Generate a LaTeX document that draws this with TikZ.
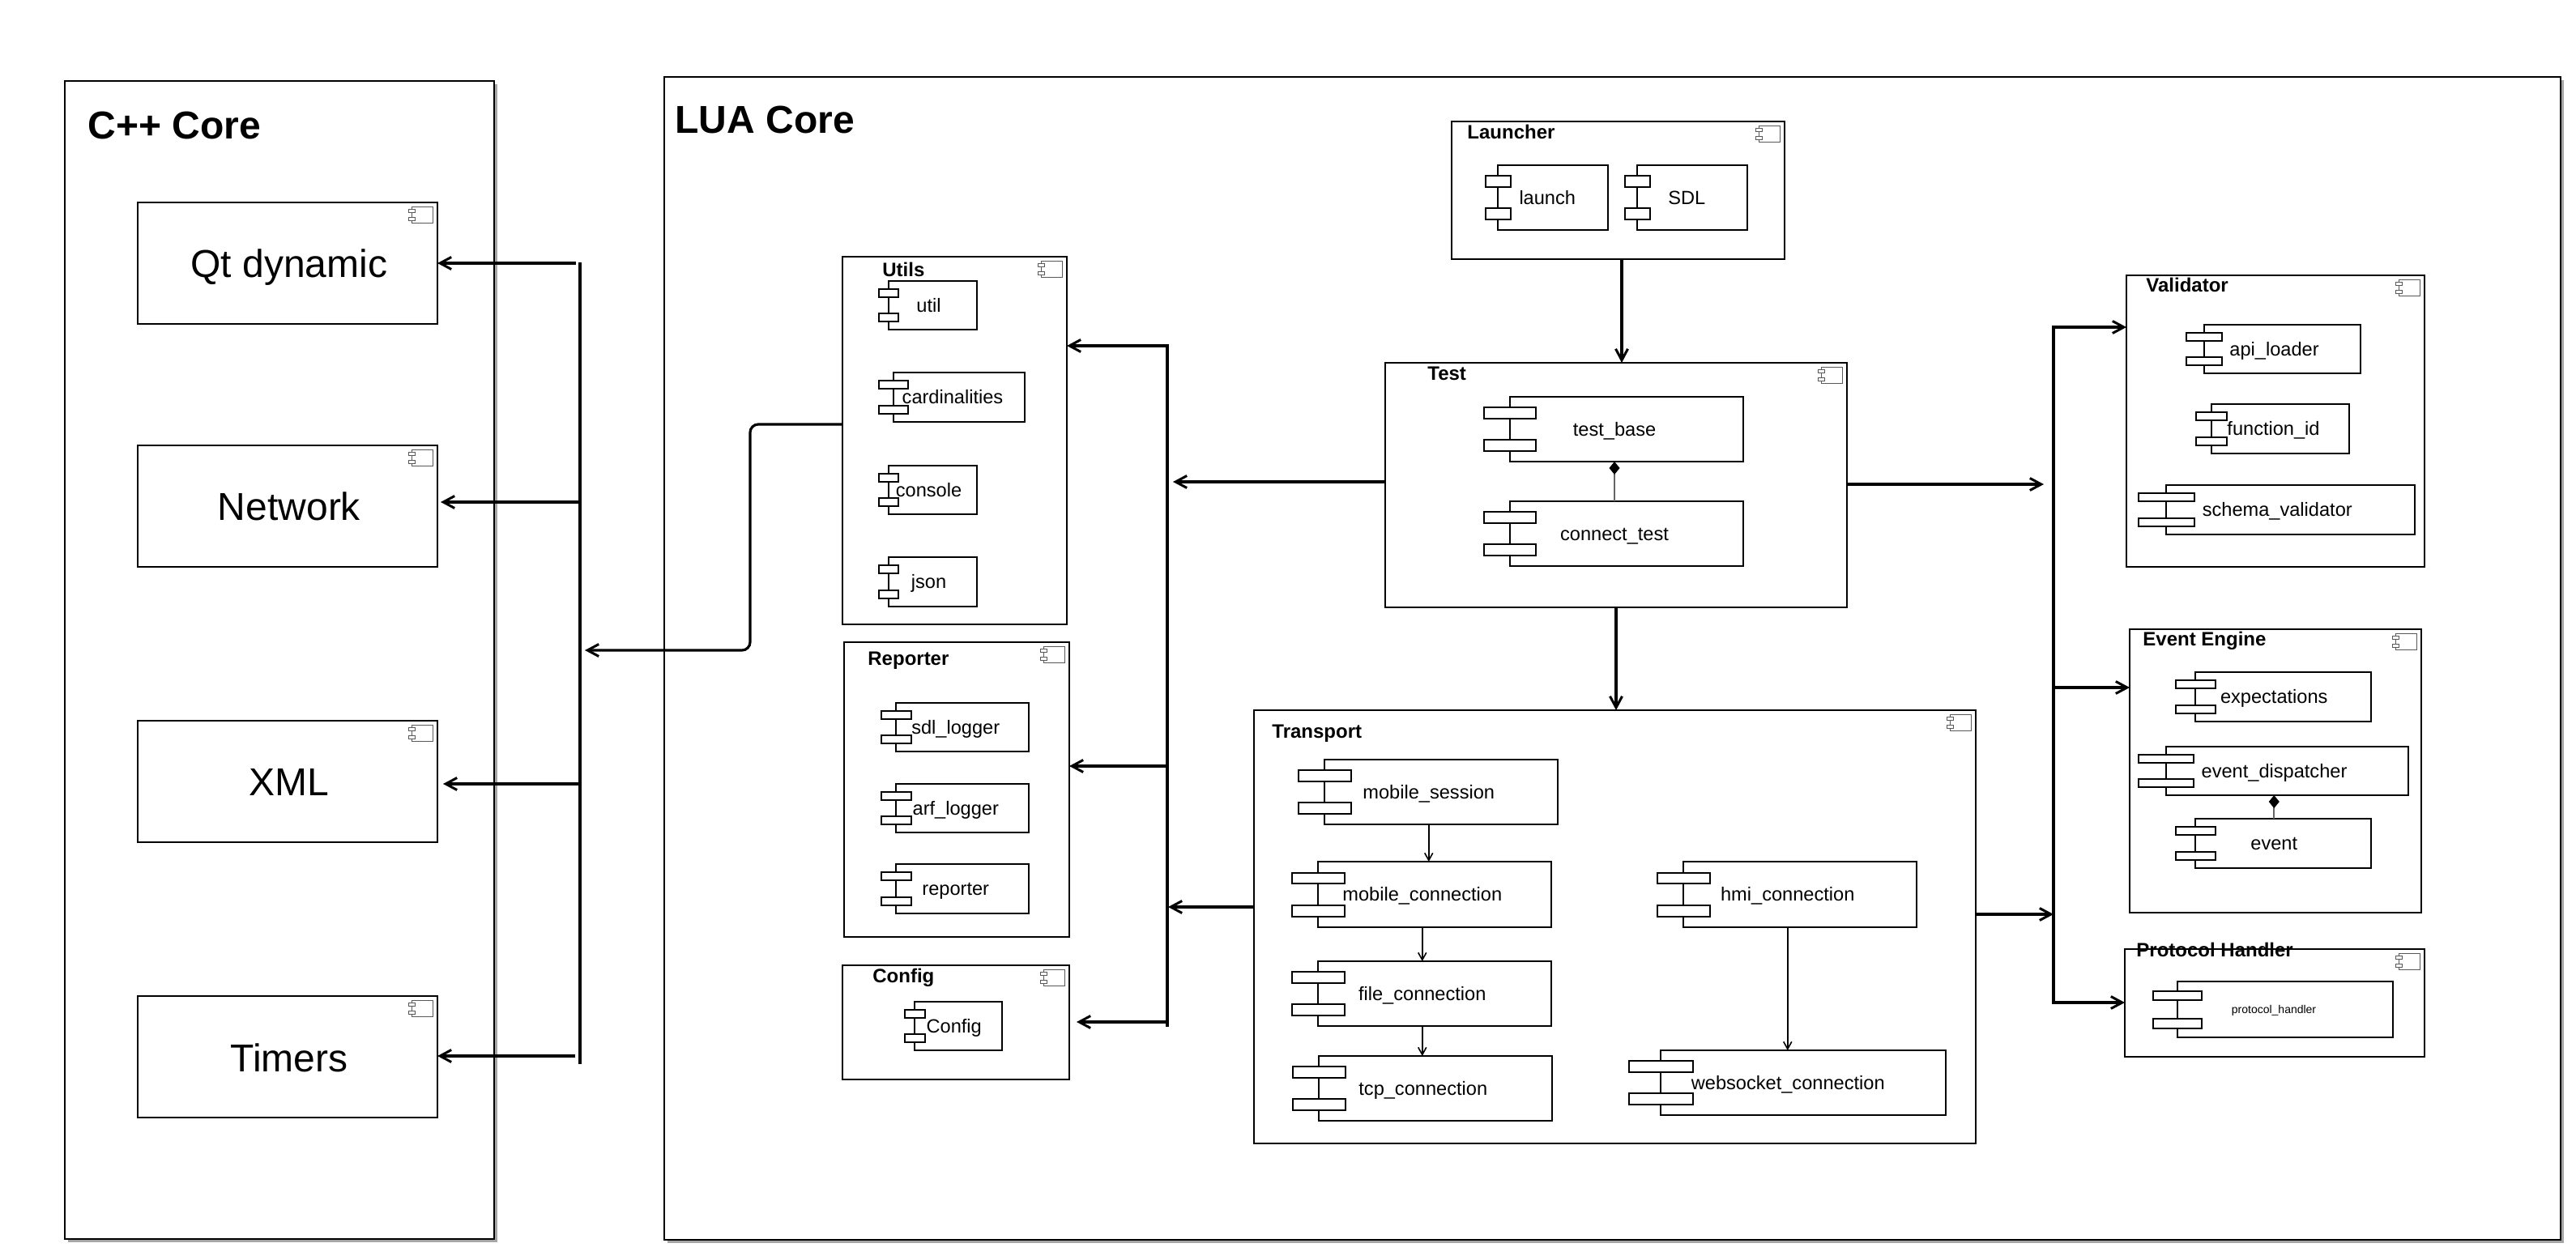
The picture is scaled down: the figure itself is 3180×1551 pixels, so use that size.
\documentclass[tikz,border=0pt]{standalone}
\usepackage{fontspec}
\setmainfont{Liberation Sans}
\usetikzlibrary{arrows.meta,shadows,calc}
\tikzset{
  frame/.style={draw=black,line width=1.4pt,fill=white,inner sep=0pt,outer sep=0pt,anchor=north west,
    drop shadow={shadow xshift=2pt,shadow yshift=-2pt,fill=black!35,opacity=1}},
  pkgbox/.style={draw=black,line width=1.25pt,fill=white,inner sep=0pt,outer sep=0pt},
  modbody/.style={draw=black,line width=1.1pt,fill=white,inner sep=0pt,outer sep=0pt},
  modport/.style={draw=black,line width=1pt,fill=white,inner sep=0pt,outer sep=0pt},
  iconline/.style={draw=black!65,line width=0.45pt,fill=white},
  bigtitle/.style={font=\fontsize{24}{28}\selectfont\bfseries,anchor=west,inner sep=0pt,text height=17.2pt,text depth=0pt},
  smalltitle/.style={font=\fontsize{12}{14}\selectfont\bfseries,anchor=west,inner sep=0pt,text height=8.6pt,text depth=0pt},
  bigtext/.style={font=\fontsize{24}{28}\selectfont,inner sep=0pt,text height=21.7pt,text depth=5.1pt},
  modtext/.style={font=\fontsize{11.8}{14}\selectfont,inner sep=0pt,text height=10.9pt,text depth=2.5pt,xshift=0.5pt},
  tinytext/.style={font=\fontsize{7}{9}\selectfont,inner sep=0pt,text height=6.3pt,text depth=1.5pt,xshift=0.5pt},
  busline/.style={draw=black,line width=1.6pt},
  arr/.style={draw=black,line width=1.6pt,-{Straight Barb[length=7pt,width=7.5pt,line width=1.5pt]}},
  thinarr/.style={draw=black,line width=0.9pt,-{Straight Barb[length=4.5pt,width=5pt,line width=0.8pt]}},
  compos/.style={draw=black!60,line width=0.8pt,-{Diamond[length=8pt,width=6.5pt,fill=black,black]}},
}
% package box with the small component icon at its top right corner
\newcommand{\pkgframe}[5]{%
  \pgfmathsetmacro\pw{(#4-#2)/2}\pgfmathsetmacro\ph{(#5-#3)/2}%
  \pgfmathsetmacro\pcx{(#4+#2)/2}\pgfmathsetmacro\pcy{(#5+#3)/2}%
  \node[pkgbox,minimum width=\pw pt,minimum height=\ph pt] (#1) at (\pcx,\pcy) {};
  \draw[iconline] ([shift={(-32,5)}]#1.north east) rectangle ([shift={(-6,25)}]#1.north east);
  \draw[iconline] ([shift={(-36,8)}]#1.north east) rectangle ([shift={(-28,12)}]#1.north east);
  \draw[iconline] ([shift={(-36,18)}]#1.north east) rectangle ([shift={(-28,22)}]#1.north east);
}
% component: name, x0, y0, x1, y1, port width, text style, text
\newcommand{\modulebox}[8]{%
  \pgfmathsetmacro\mw{(#4-#2)/2}\pgfmathsetmacro\mh{(#5-#3)/2}%
  \pgfmathsetmacro\mcx{(#4+#2)/2}\pgfmathsetmacro\mcy{(#5+#3)/2}%
  \pgfmathsetmacro\tcx{(#4+#2-#6/2)/2}%
  \pgfmathsetmacro\ppw{#6/2}\pgfmathsetmacro\pph{(#5-#3)/12}%
  \pgfmathsetmacro\pya{#3+(#5-#3)/4}\pgfmathsetmacro\pyb{#3+3*(#5-#3)/4}%
  \node[modbody,minimum width=\mw pt,minimum height=\mh pt] (#1) at (\mcx,\mcy) {};
  \node[modport,minimum width=\ppw pt,minimum height=\pph pt] (#1-pa) at (#2,\pya) {};
  \node[modport,minimum width=\ppw pt,minimum height=\pph pt] (#1-pb) at (#2,\pyb) {};
  \node[#7] (#1-t) at (\tcx,\mcy) {#8};
}
\begin{document}
\begin{tikzpicture}[x=0.5pt,y=-0.5pt]
\useasboundingbox (0,0) rectangle (3180,1551);
\fill[white] (0,0) rectangle (3180,1551);

% the two large frames
\node[frame,minimum width=265pt,minimum height=715pt] (cpp) at (80,100) {};
\node[frame,minimum width=1170.5pt,minimum height=718pt] (lua) at (820,95) {};
\node[bigtitle] (cpptitle) at (108,154) {C++ Core};
\node[bigtitle] (luatitle) at (833,147) {LUA Core};

% C++ core
\pkgframe{qt}{170}{250}{540}{400}
\pkgframe{net}{170}{550}{540}{700}
\pkgframe{xml}{170}{890}{540}{1040}
\pkgframe{tim}{170}{1230}{540}{1380}
\node[bigtext] (qt-t) at (357,326) {Qt dynamic};
\node[bigtext] (net-t) at (357,626) {Network};
\node[bigtext] (xml-t) at (357,966) {XML};
\node[bigtext] (tim-t) at (357,1307) {Timers};

% Utils
\pkgframe{utils}{1040}{317}{1317}{771}
\node[smalltitle] (utils-l) at (1089,333) {Utils};
\modulebox{util}{1097}{347}{1206}{407}{24}{modtext}{util}
\modulebox{card}{1103}{460}{1265}{521}{36}{modtext}{cardinalities}
\modulebox{cons}{1097}{575}{1206}{635}{24}{modtext}{console}
\modulebox{json}{1097}{688}{1206}{749}{24}{modtext}{json}

% Reporter
\pkgframe{rep}{1042}{793}{1320}{1157}
\node[smalltitle] (rep-l) at (1071,813) {Reporter};
\modulebox{sdll}{1106}{868}{1270}{928}{37}{modtext}{sdl\_logger}
\modulebox{arfl}{1106}{968}{1270}{1028}{37}{modtext}{arf\_logger}
\modulebox{repm}{1106}{1067}{1270}{1128}{37}{modtext}{reporter}

% Config
\pkgframe{conf}{1040}{1192}{1320}{1333}
\node[smalltitle] (conf-l) at (1077,1205) {Config};
\modulebox{confm}{1129}{1237}{1237}{1297}{25}{modtext}{Config}

% Launcher
\pkgframe{laun}{1792}{150}{2203}{320}
\node[smalltitle] (laun-l) at (1811,163) {Launcher};
\modulebox{lnch}{1849}{204}{1985}{284}{31}{modtext}{launch}
\modulebox{sdlm}{2021}{204}{2157}{284}{31}{modtext}{SDL}

% Test
\pkgframe{test}{1710}{448}{2280}{750}
\node[smalltitle] (test-l) at (1762,461) {Test};
\modulebox{tbase}{1864}{490}{2152}{570}{64}{modtext}{test\_base}
\modulebox{ctest}{1864}{619}{2152}{699}{64}{modtext}{connect\_test}

% Transport
\pkgframe{trans}{1548}{877}{2439}{1412}
\node[smalltitle] (trans-l) at (1570,903) {Transport};
\modulebox{msess}{1635}{938}{1923}{1018}{65}{modtext}{mobile\_session}
\modulebox{mconn}{1627}{1064}{1915}{1145}{65}{modtext}{mobile\_connection}
\modulebox{fconn}{1627}{1187}{1915}{1267}{65}{modtext}{file\_connection}
\modulebox{tconn}{1628}{1304}{1916}{1384}{65}{modtext}{tcp\_connection}
\modulebox{hconn}{2078}{1064}{2366}{1145}{65}{modtext}{hmi\_connection}
\modulebox{wconn}{2050}{1297}{2402}{1377}{79}{modtext}{websocket\_connection}

% Validator
\pkgframe{vali}{2625}{340}{2993}{700}
\node[smalltitle] (vali-l) at (2649,352) {Validator};
\modulebox{apil}{2721}{401}{2914}{461}{44}{modtext}{api\_loader}
\modulebox{fnid}{2730}{499}{2900}{560}{38}{modtext}{function\_id}
\modulebox{schv}{2674}{599}{2981}{660}{69}{modtext}{schema\_validator}

% Event Engine
\pkgframe{evte}{2629}{777}{2989}{1127}
\node[smalltitle] (evte-l) at (2645,789) {Event Engine};
\modulebox{expc}{2710}{830}{2927}{891}{49}{modtext}{expectations}
\modulebox{edis}{2674}{922}{2973}{982}{68}{modtext}{event\_dispatcher}
\modulebox{evnt}{2710}{1011}{2927}{1072}{49}{modtext}{event}

% Protocol Handler
\pkgframe{prot}{2623}{1172}{2993}{1305}
\node[smalltitle] (prot-l) at (2637,1173) {Protocol Handler};
\modulebox{proth}{2688}{1212}{2954}{1281}{60}{tinytext}{protocol\_handler}

% buses
\coordinate (ba) at (716,324); \coordinate (bb) at (716,1314);
\coordinate (ma) at (1441,427); \coordinate (mb) at (1441,1266);
\coordinate (ra) at (2535,404); \coordinate (rb) at (2535,1238);
\draw[busline] (ba) -- (bb);
\draw[busline,line cap=rect] (ma) -- (mb);
\draw[busline,line cap=rect] (ra) -- (rb);

% left bus to the C++ modules
\coordinate (q1) at (711,325); \coordinate (n1) at (716,620); \coordinate (n2) at (544,620);
\coordinate (x1) at (716,968); \coordinate (x2) at (547,968); \coordinate (t1) at (710,1304);
\draw[arr] (q1) -- (q1 -| qt.east);
\draw[arr] (n1) -- (n2);
\draw[arr] (x1) -- (x2);
\draw[arr] (t1) -- (t1 -| tim.east);

% Utils to the left bus
\coordinate (u1) at (1040,524); \coordinate (u2) at (722,803); \coordinate (u3) at (926,524);
\draw[arr,rounded corners=5pt] (u1 -| utils.west) -- (u3) -- (u3 |- u2) -- (u2);

% middle bus
\coordinate (m1) at (1441,427); \coordinate (m2) at (1441,946); \coordinate (m3) at (1441,1262);
\coordinate (m4) at (1329,1262); \coordinate (m5) at (1448,595); \coordinate (m6) at (1442,1120);
\draw[arr] (m1) -- (m1 -| utils.east);
\draw[arr] (m2) -- (m2 -| rep.east);
\draw[arr] (m3) -- (m4);
\draw[arr] (m5 -| test.west) -- (m5);
\draw[arr] (m6 -| trans.west) -- (m6);

% vertical connections
\coordinate (v1) at (2002,320); \coordinate (v2) at (1995,750);
\draw[arr] (v1) -- (v1 |- test.north);
\draw[arr] (v2) -- (v2 |- trans.north);

% right bus
\coordinate (r1) at (2535,404); \coordinate (r2) at (2535,849); \coordinate (r3) at (2535,1238);
\coordinate (r4) at (2523,598); \coordinate (r5) at (2535,1129);
\draw[arr] (r1) -- (r1 -| vali.west);
\draw[arr] (r2) -- (r2 -| evte.west);
\draw[arr] (r3) -- (r3 -| prot.west);
\draw[arr] (r4 -| test.east) -- (r4);
\draw[arr] (r5 -| trans.east) -- (r5);

% inside Transport
\draw[thinarr] (msess-t |- msess.south) -- (msess-t |- mconn.north);
\draw[thinarr] (mconn-t |- mconn.south) -- (mconn-t |- fconn.north);
\draw[thinarr] (fconn-t |- fconn.south) -- (fconn-t |- tconn.north);
\draw[thinarr] (hconn-t |- hconn.south) -- (hconn-t |- wconn.north);

% compositions
\draw[compos] (ctest-t |- ctest.north) -- (ctest-t |- tbase.south);
\draw[compos] (evnt-t |- evnt.north) -- (evnt-t |- edis.south);
\end{tikzpicture}
\end{document}
